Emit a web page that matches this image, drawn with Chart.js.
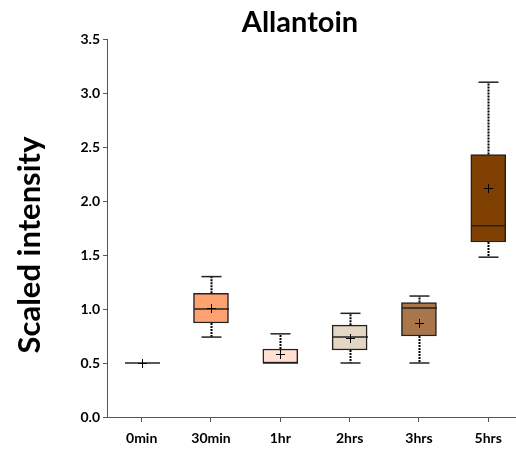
<!DOCTYPE html>
<html><head><meta charset="utf-8">
<script src="https://cdn.jsdelivr.net/npm/chart.js@4/dist/chart.umd.min.js"></script>
<style>html,body{margin:0;padding:0;background:#fff}#wrap{width:516px;height:449px}</style>
</head><body><div id="wrap"><canvas id="c" width="516" height="449"></canvas></div>
<script>
const categories = ['0min','30min','1hr','2hrs','3hrs','5hrs'];
const whiskerLow  = [0.50, 0.74, 0.50, 0.50, 0.50, 1.48];
const q1          = [0.50, 0.87, 0.50, 0.62, 0.75, 1.62];
const median      = [0.50, 1.00, 0.50, 0.74, 1.01, 1.77];
const q3          = [0.50, 1.145, 0.63, 0.85, 1.06, 2.43];
const whiskerHigh = [0.50, 1.30, 0.77, 0.96, 1.12, 3.10];
const means       = [0.50, 1.01, 0.58, 0.73, 0.87, 2.12];
const boxColors   = ['#ffffff','#ffa271','#ffe0d2','#e4d6c4','#a8764a','#7f3f00'];
const yTicks = [0,0.5,1,1.5,2,2.5,3,3.5];
const chartTitle = 'Allantoin';
const yTitle = 'Scaled intensity';

const FONT = 'Lato, "Open Sans", sans-serif';

const boxPlugin = {
  id: 'boxExtras',
  afterDatasetsDraw(chart) {
    const ctx = chart.ctx, xs = chart.scales.x, ys = chart.scales.y;
    const half = 17.5, cap = 10, cr = 4.5;
    ctx.save();
    categories.forEach((c, i) => {
      const x = Math.round(xs.getPixelForValue(i)) + 0.5;
      ctx.strokeStyle = '#000';
      ctx.lineWidth = 2;
      ctx.setLineDash([2, 1]);
      if (whiskerHigh[i] > q3[i]) {
        ctx.beginPath();
        ctx.moveTo(x, ys.getPixelForValue(q3[i]));
        ctx.lineTo(x, ys.getPixelForValue(whiskerHigh[i]));
        ctx.stroke();
      }
      if (whiskerLow[i] < q1[i]) {
        ctx.beginPath();
        ctx.moveTo(x, ys.getPixelForValue(q1[i]));
        ctx.lineTo(x, ys.getPixelForValue(whiskerLow[i]));
        ctx.stroke();
      }
      ctx.setLineDash([]);
      ctx.lineWidth = 1.5;
      ctx.strokeStyle = '#222';
      if (whiskerHigh[i] > q3[i]) {
        const y = ys.getPixelForValue(whiskerHigh[i]);
        ctx.beginPath(); ctx.moveTo(x - cap, y); ctx.lineTo(x + cap, y); ctx.stroke();
      }
      if (whiskerLow[i] < q1[i]) {
        const y = ys.getPixelForValue(whiskerLow[i]);
        ctx.beginPath(); ctx.moveTo(x - cap, y); ctx.lineTo(x + cap, y); ctx.stroke();
      }
      const ym = ys.getPixelForValue(median[i]);
      ctx.beginPath(); ctx.moveTo(x - half, ym); ctx.lineTo(x + half, ym); ctx.stroke();
      const yc = Math.round(ys.getPixelForValue(means[i])) + 0.5;
      ctx.lineWidth = 1;
      ctx.strokeStyle = '#000';
      ctx.beginPath();
      ctx.moveTo(x - cr, yc); ctx.lineTo(x + cr, yc);
      ctx.moveTo(x, yc - cr); ctx.lineTo(x, yc + cr);
      ctx.stroke();
    });
    ctx.fillStyle = '#000';
    ctx.textAlign = 'center';
    ctx.textBaseline = 'middle';
    ctx.font = 'bold 29px ' + FONT;
    ctx.fillText(chartTitle, 300, 23);
    ctx.translate(30, 245);
    ctx.rotate(-Math.PI / 2);
    ctx.font = 'bold 31px ' + FONT;
    ctx.fillText(yTitle, 0, 0);
    ctx.restore();
  }
};

new Chart(document.getElementById('c'), {
  type: 'bar',
  data: {
    datasets: [{
      data: categories.map((c, i) => ({ x: i, y: [q1[i], q3[i]] })),
      backgroundColor: boxColors,
      borderColor: '#222',
      borderWidth: 1.5,
      borderSkipped: false,
      barThickness: 35
    }]
  },
  options: {
    responsive: false,
    animation: false,
    layout: { padding: { top: 39, right: 0, left: 0, bottom: 0 } },
    plugins: { legend: { display: false }, tooltip: { enabled: false }, title: { display: false } },
    scales: {
      x: {
        type: 'linear',
        offset: false,
        min: -0.5, max: 5.4,
        afterBuildTicks: (s) => { s.ticks = categories.map((c, i) => ({ value: i })); },
        afterFit: (s) => { s.height = 32; },
        ticks: {
          callback: (v) => categories[v],
          font: { family: FONT, weight: 'bold', size: 14 },
          color: '#000',
          padding: 8,
          maxRotation: 0
        },
        grid: { offset: false, drawOnChartArea: false, drawTicks: true, tickLength: 5, color: '#555' },
        border: { color: '#555', width: 1 }
      },
      y: {
        min: 0, max: 3.5,
        afterBuildTicks: (s) => { s.ticks = yTicks.map(v => ({ value: v })); },
        afterFit: (s) => { s.width = 107; },
        ticks: {
          callback: (v) => v.toFixed(1),
          font: { family: FONT, weight: 'bold', size: 14 },
          color: '#000',
          padding: 3
        },
        grid: { drawOnChartArea: false, drawTicks: true, tickLength: 4, color: '#555' },
        border: { color: '#555', width: 1 }
      }
    }
  },
  plugins: [boxPlugin]
});
</script>
</body></html>
